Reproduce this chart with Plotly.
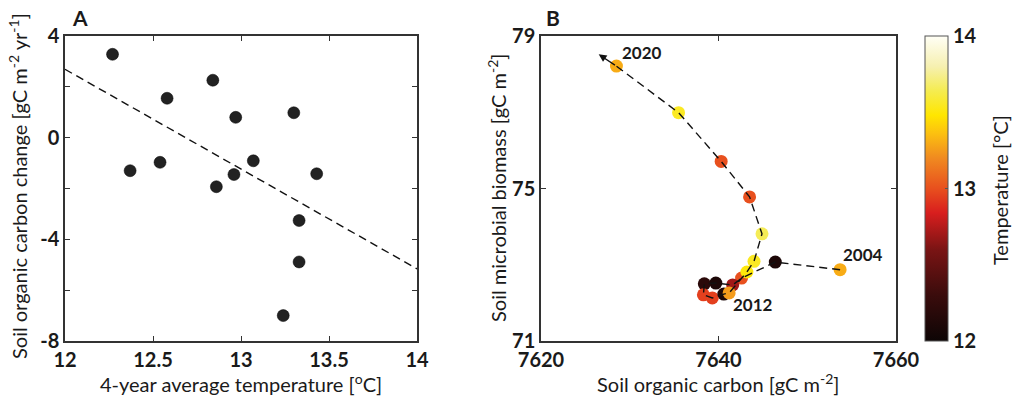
import plotly.graph_objects as go

# ---------------- Data ----------------
# Panel A
temp_a = [12.27, 12.37, 12.54, 12.58, 12.84, 12.86, 12.97, 12.96, 13.07, 13.24, 13.30, 13.33, 13.33, 13.43]
soc_change = [3.28, -1.30, -0.97, 1.55, 2.26, -1.93, 0.80, -1.45, -0.91, -7.0, 0.98, -3.26, -4.89, -1.42]
fit_x = [12, 14]
fit_y = [2.69, -5.16]

# Panel B
years = list(range(2004, 2021))
soc = [7653.7, 7646.4, 7642.6, 7641.6, 7639.7, 7638.4, 7638.3, 7639.3, 7640.6, 7641.2,
       7643.2, 7644.0, 7644.9, 7643.5, 7640.3, 7635.5, 7628.5]
mbc = [72.87, 73.07, 72.65, 72.47, 72.52, 72.50, 72.21, 72.13, 72.23, 72.26,
       72.81, 73.09, 73.81, 74.78, 75.71, 76.99, 78.21]
temp_b = [13.3, 12.1, 13.0, 12.7, 12.1, 12.2, 12.95, 12.95, 12.1, 13.25,
          13.5, 13.55, 13.65, 13.0, 13.0, 13.55, 13.3]
arrow_tip = (7626.5, 78.52)
labels_b = [("2020", 7631.4, 78.57), ("2004", 7656.3, 73.26), ("2012", 7643.9, 71.95)]

colorscale = [
    [0.0, "#0d0505"], [0.15, "#3a0c0c"], [0.3, "#7a1414"], [0.42, "#d81e1e"],
    [0.5, "#e8501e"], [0.6, "#f08a20"], [0.68, "#fcc010"], [0.74, "#ffe600"],
    [0.82, "#f5ec50"], [0.9, "#f6f0b0"], [1.0, "#fffff6"],
]

W, H = 1013, 406
def fx(px): return px / W
def fy(py): return 1 - py / H

FONT = "Lato"
TXT = "#1a1a1a"
AX = "#333333"

fig = go.Figure()

# Panel A
fig.add_trace(go.Scatter(x=fit_x, y=fit_y, mode="lines",
                         line=dict(color="#111111", width=1.4, dash="8px,5px"),
                         xaxis="x", yaxis="y", showlegend=False, hoverinfo="skip"))
fig.add_trace(go.Scatter(x=temp_a, y=soc_change, mode="markers",
                         marker=dict(size=12, color="#222222", line=dict(color="#000000", width=0.5)),
                         xaxis="x", yaxis="y", showlegend=False))

# Panel B
fig.add_trace(go.Scatter(x=soc, y=mbc, mode="markers",
                         marker=dict(size=13, color=temp_b, colorscale=colorscale, cmin=12, cmax=14,
                                     line=dict(width=0),
                                     colorbar=dict(x=fx(925), xanchor="left", thickness=23,
                                                   lenmode="pixels", len=305, y=fy(188.5), yanchor="middle",
                                                   tickvals=[12, 13, 14], ticktext=["12", "13", "14"],
                                                   ticks="inside", ticklen=3, tickcolor="#555",
                                                   tickfont=dict(family=FONT, size=20, color=TXT, weight="bold"),
                                                   outlinewidth=1, outlinecolor="#555555",
                                                   xpad=0, ypad=0)),
                         xaxis="x2", yaxis="y2", showlegend=False))
fig.add_trace(go.Scatter(x=soc, y=mbc, mode="lines",
                         line=dict(color="#111111", width=1.4, dash="8px,5px"),
                         xaxis="x2", yaxis="y2", showlegend=False, hoverinfo="skip"))

tickfont = dict(family=FONT, size=20, color=TXT, weight="bold")
common = dict(showgrid=False, zeroline=False, showline=True, linecolor=AX, linewidth=1.5,
              mirror="ticks", ticks="inside", ticklen=5, tickcolor=AX, tickwidth=1.2,
              tickfont=tickfont, automargin=False)

fig.update_layout(
    template="none",
    width=W, height=H,
    margin=dict(l=0, r=0, t=0, b=0, autoexpand=False),
    paper_bgcolor="white", plot_bgcolor="white",
    xaxis=dict(domain=[fx(65), fx(417)], range=[12, 14], tickvals=[12, 12.5, 13, 13.5, 14],
               ticktext=["12", "12.5", "13", "13.5", "14"], anchor="y", **common),
    yaxis=dict(domain=[fy(341), fy(36)], range=[-8, 4], tickvals=[-8, -4, 0, 4],
               ticktext=["-8", "-4", "0", "4"], anchor="x",
               minor=dict(tickvals=[-6, -2, 2], ticks="inside", ticklen=5, tickcolor=AX, tickwidth=1.2),
               **common),
    xaxis2=dict(domain=[fx(541), fx(896)], range=[7620, 7660], tickvals=[7620, 7640, 7660],
                anchor="y2", **common),
    yaxis2=dict(domain=[fy(341), fy(36)], range=[71, 79], tickvals=[71, 75, 79],
                anchor="x2", **common),
)

ann = []
def pann(text, px, py, size, angle=0):
    ann.append(dict(text=text, x=fx(px), y=fy(py), xref="paper", yref="paper", showarrow=False,
                    xanchor="center", yanchor="middle", textangle=angle,
                    font=dict(family=FONT, size=size, color=TXT)))

pann("<b>A</b>", 80, 17, 21)
pann("<b>B</b>", 553, 17, 21)
pann("4-year average temperature [<sup>o</sup>C]", 241, 383, 20)
pann("Soil organic carbon change [gC m<sup>-2</sup> yr<sup>-1</sup>]", 18, 186, 20, -90)
pann("Soil organic carbon [gC m<sup>-2</sup>]", 718, 383, 20)
pann("Soil microbial biomass [gC m<sup>-2</sup>]", 497, 188, 20, -90)
pann("Temperature [°C]", 1000, 190, 20, -90)

# year labels
for t, lx, ly in labels_b:
    ann.append(dict(text="<b>%s</b>" % t, x=lx, y=ly, xref="x2", yref="y2", showarrow=False,
                    xanchor="center", yanchor="middle",
                    font=dict(family=FONT, size=17, color=TXT)))
# arrow
ann.append(dict(x=arrow_tip[0], y=arrow_tip[1], ax=soc[-1], ay=mbc[-1], xref="x2", yref="y2",
                axref="x2", ayref="y2", showarrow=True, arrowhead=2, arrowsize=1.2, arrowwidth=1.3,
                arrowcolor="#111111", text=""))
fig.update_layout(annotations=ann)

fig.write_html("out.html", config={"displayModeBar": False},
               post_script="document.body.style.margin='0px';")
